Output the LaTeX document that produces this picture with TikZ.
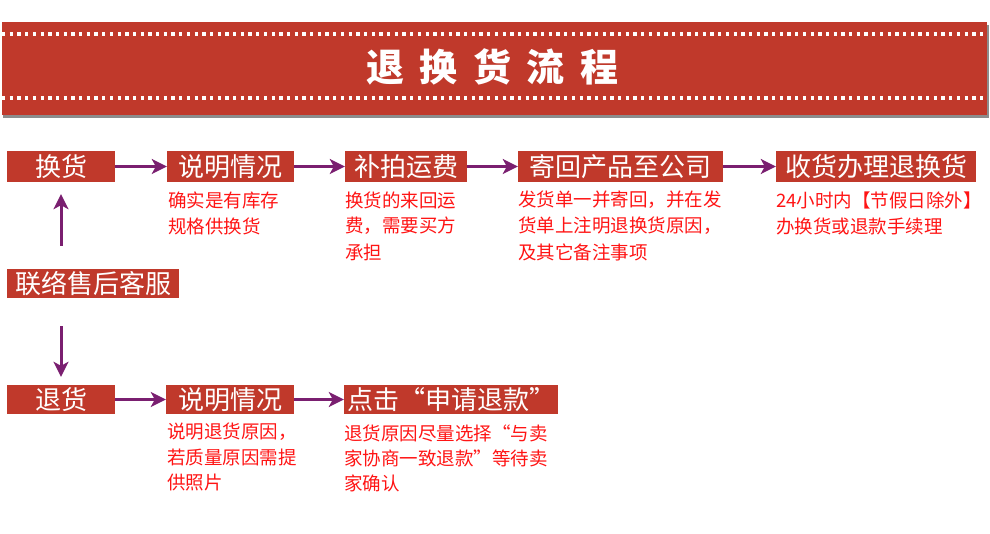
\documentclass[tikz,border=0pt]{standalone}
\usepackage{fontspec}
\setmainfont{Noto Sans CJK SC}
\usetikzlibrary{arrows.meta}
\definecolor{boxred}{HTML}{C0392B}
\definecolor{arrpurple}{HTML}{7A1F70}
\definecolor{descred}{HTML}{FF1414}
\tikzset{
  stepbox/.style={fill=boxred, text=white, inner sep=0pt, minimum height=31pt,
    font=\fontsize{26}{26}\selectfont},
  desc/.style={anchor=west, inner sep=0pt, text=descred,
    font=\fontsize{18.5}{18.5}\selectfont},
  arr/.style={draw=arrpurple, line width=3pt,
    -{Stealth[length=15pt,width=15pt,inset=4pt]}},
  dots/.style={draw=white, line width=3.3pt, dash pattern=on 3.3pt off 4.4pt}
}
\begin{document}
\begin{tikzpicture}[x=1pt,y=-1pt]
\useasboundingbox (0,0) rectangle (990,534);
% header band
\fill[black!45] (3,25) rectangle (989,118);
\fill[boxred] (2,22) rectangle (987,115);
\draw[dots] (2,34) -- (987,34);
\draw[dots] (2,98) -- (987,98);
\node[text=white, inner sep=0pt, font=\fontsize{38}{38}\selectfont\bfseries] (title) at (492.5,66.5)
  {退\hspace{15.5pt}换\hspace{15.5pt}货\hspace{15.5pt}流\hspace{15.5pt}程};
% row 1
\node[stepbox, minimum width=108pt] (huan) at (61,166.5) {换货};
\node[stepbox, minimum width=127pt] (sm1) at (230.5,166.5) {说明情况};
\node[stepbox, minimum width=122pt] (bp) at (406,166.5) {补拍运费};
\node[stepbox, minimum width=205pt] (jh) at (620.5,166.5) {寄回产品至公司};
\node[stepbox, minimum width=200pt] (sh) at (876,166.5) {收货办理退换货};
% middle
\node[stepbox, minimum width=172pt, minimum height=29pt] (lx) at (93,283.5) {联络售后客服};
% row 2
\node[stepbox, minimum width=108pt, minimum height=29pt] (tui) at (61,399.5) {退货};
\node[stepbox, minimum width=128pt, minimum height=29pt] (sm2) at (230,399.5) {说明情况};
\node[stepbox, minimum width=214pt, minimum height=29pt] (dj) at (451,399.5) {点击“申请退款”};
% descriptions
\node[desc] (d1a) at (168,200) {确实是有库存};
\node[desc] (d1b) at (168,226) {规格供换货};
\node[desc] (d2a) at (345,200) {换货的来回运};
\node[desc] (d2b) at (345,226) {费，需要买方};
\node[desc] (d2c) at (345,252) {承担};
\node[desc] (d3a) at (518,200) {发货单一并寄回，并在发};
\node[desc] (d3b) at (518,226) {货单上注明退换货原因，};
\node[desc] (d3c) at (518,252) {及其它备注事项};
\node[desc] (d4a) at (776,200) {24小时内【节假日除外】};
\node[desc] (d4b) at (776,226) {办换货或退款手续理};
\node[desc] (d5a) at (167,432) {说明退货原因，};
\node[desc] (d5b) at (167,457) {若质量原因需提};
\node[desc] (d5c) at (167,483) {供照片};
\node[desc] (d6a) at (344,433) {退货原因尽量选择“与卖};
\node[desc] (d6b) at (344,458) {家协商一致退款”等待卖};
\node[desc] (d6c) at (344,483) {家确认};
% arrows
\draw[arr] (huan.east) -- (sm1.west);
\draw[arr] (sm1.east) -- (bp.west);
\draw[arr] (bp.east) -- (jh.west);
\draw[arr] (jh.east) -- (sh.west);
\draw[arr] (tui.east) -- (sm2.west);
\draw[arr] (sm2.east) -- (dj.west);
\draw[arr, shorten <=23pt, shorten >=12pt] (lx.north -| huan.south) -- (huan.south);
\draw[arr, shorten <=28pt, shorten >=8pt] (lx.south -| tui.north) -- (tui.north);
\end{tikzpicture}
\end{document}
